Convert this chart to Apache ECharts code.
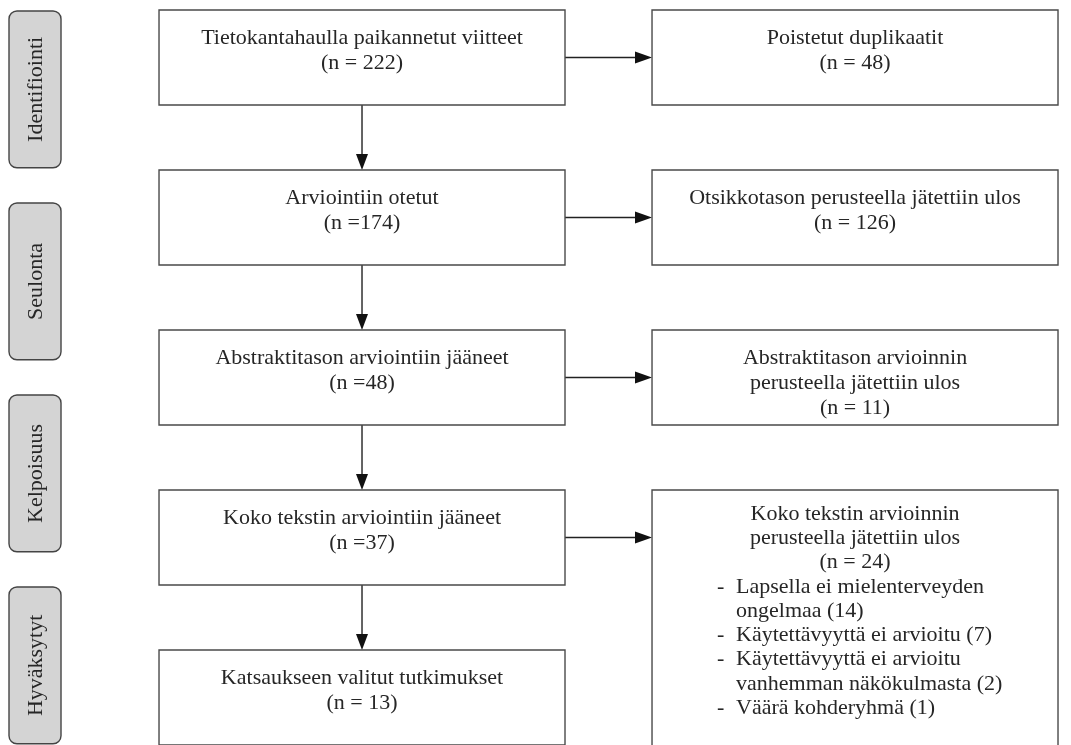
<!DOCTYPE html>
<html>
<head>
<meta charset="utf-8">
<script src="https://cdn.jsdelivr.net/npm/echarts@6/dist/echarts.min.js"></script>
<style>
  html, body { margin: 0; padding: 0; background: #fff; }
  #chart { width: 1071px; height: 745px; }
</style>
</head>
<body>
<div id="chart"></div>
<script>
// stages on the left side
const stages = ['Identifiointi', 'Seulonta', 'Kelpoisuus', 'Hyväksytyt'];
// main flow (left column)
const mainLabels = [
    'Tietokantahaulla paikannetut viitteet',
    'Arviointiin otetut',
    'Abstraktitason arviointiin jääneet',
    'Koko tekstin arviointiin jääneet',
    'Katsaukseen valitut tutkimukset'
];
const mainN = [222, 174, 48, 37, 13];
const mainEqSpace = [true, false, false, false, true]; // printed as "(n =174)" etc.
// excluded (right column)
const excludedLabels = [
    'Poistetut duplikaatit',
    'Otsikkotason perusteella jätettiin ulos',
    'Abstraktitason arvioinnin\nperusteella jätettiin ulos',
    'Koko tekstin arvioinnin\nperusteella jätettiin ulos'
];
const excludedN = [48, 126, 11, 24];
// reasons for full text exclusion
const reasonLabels = [
    'Lapsella ei mielenterveyden\nongelmaa',
    'Käytettävyyttä ei arvioitu',
    'Käytettävyyttä ei arvioitu\nvanhemman näkökulmasta',
    'Väärä kohderyhmä'
];
const reasonN = [14, 7, 2, 1];

// layout in axis units (x: columns, y: rows)
const COL_W = 0.8235, ROW_H = 0.59375, TALL_H = 1.69;
const STAGE_X = -0.6633, STAGE_W = 0.1055, STAGE_TOP = -0.2906, STAGE_H = 0.98, STAGE_STEP = 1.2;
const FONT = '"Liberation Serif", "DejaVu Serif", serif';
const FS = 22;
const TEXT_COL = '#262626';
const LINE_H = 25;

function nText(n, spaced) {
    return '(n ' + (spaced ? '= ' : '=') + n + ')';
}

const chart = echarts.init(document.getElementById('chart'));

function boxRect(api, col, row, h) {
    const c = api.coord([col, row]);
    const s = api.size([COL_W, ROW_H]);
    const hh = api.size([0, h])[1];
    return {x: c[0] - s[0] / 2, y: c[1] - s[1] / 2, width: s[0], height: hh};
}

const option = {
    animation: false,
    grid: {left: 0, right: 0, top: 0, bottom: 0},
    xAxis: {type: 'value', min: -0.7343, max: 1.4381, show: false},
    yAxis: {type: 'value', min: -0.359375, max: 4.296875, inverse: true, show: false},
    series: [
        {
            // stage labels
            type: 'custom',
            data: stages.map((s, i) => [STAGE_X, STAGE_TOP + STAGE_STEP * i]),
            renderItem: function (params, api) {
                const p = api.coord([api.value(0), api.value(1)]);
                const s = api.size([STAGE_W, STAGE_H]);
                return {
                    type: 'group',
                    children: [{
                        type: 'rect',
                        shape: {x: p[0] - s[0] / 2, y: p[1], width: s[0], height: s[1], r: 8},
                        style: {fill: '#d4d4d4', stroke: '#444', lineWidth: 1.4}
                    }, {
                        type: 'text',
                        x: p[0] + 1, y: p[1] + s[1] / 2,
                        rotation: Math.PI / 2,
                        style: {
                            text: stages[params.dataIndex], x: 0, y: 0,
                            align: 'center', verticalAlign: 'middle',
                            fontFamily: FONT, fontSize: FS, fill: TEXT_COL
                        }
                    }]
                };
            }
        },
        {
            // arrows between boxes
            type: 'custom',
            data: excludedLabels.map((l, i) => [0, i]),
            renderItem: function (params, api) {
                const i = params.dataIndex;
                const r0 = boxRect(api, 0, i, ROW_H);
                const r1 = boxRect(api, 0, i + 1, ROW_H);
                const rr = boxRect(api, 1, i, ROW_H);
                const cx = r0.x + r0.width / 2;
                const cy = r0.y + r0.height / 2;
                const ah = 16, aw = 6;
                const ls = {stroke: '#222', lineWidth: 1.4};
                return {
                    type: 'group',
                    children: [
                        {type: 'line', shape: {x1: cx, y1: r0.y + r0.height, x2: cx, y2: r1.y - ah + 1}, style: ls},
                        {type: 'polygon', shape: {points: [[cx - aw, r1.y - ah], [cx + aw, r1.y - ah], [cx, r1.y]]}, style: {fill: '#111'}},
                        {type: 'line', shape: {x1: r0.x + r0.width, y1: cy, x2: rr.x - ah + 1, y2: cy}, style: ls},
                        {type: 'polygon', shape: {points: [[rr.x - ah - 1, cy - aw], [rr.x - ah - 1, cy + aw], [rr.x, cy]]}, style: {fill: '#111'}}
                    ]
                };
            }
        },
        {
            // main flow boxes
            type: 'custom',
            data: mainLabels.map((l, i) => [0, i]),
            renderItem: function (params, api) {
                const i = params.dataIndex;
                const r = boxRect(api, api.value(0), api.value(1), ROW_H);
                return {
                    type: 'group',
                    children: [{
                        type: 'rect', shape: r,
                        style: {fill: '#fff', stroke: '#4a4a4a', lineWidth: 1.4}
                    }, {
                        type: 'text',
                        style: {
                            text: mainLabels[i] + '\n' + nText(mainN[i], mainEqSpace[i]),
                            x: r.x + r.width / 2, y: r.y + 16,
                            align: 'center', verticalAlign: 'top', lineHeight: LINE_H,
                            fontFamily: FONT, fontSize: FS, fill: TEXT_COL
                        }
                    }]
                };
            }
        },
        {
            // excluded boxes
            type: 'custom',
            data: excludedLabels.map((l, i) => [1, i]),
            renderItem: function (params, api) {
                const i = params.dataIndex;
                const last = i === excludedLabels.length - 1;
                const r = boxRect(api, api.value(0), api.value(1), last ? TALL_H : ROW_H);
                const lh = last ? 24.25 : LINE_H;
                const top = last ? r.y + 12 : r.y + 16;
                const children = [{
                    type: 'rect', shape: r,
                    style: {fill: '#fff', stroke: '#4a4a4a', lineWidth: 1.4}
                }, {
                    type: 'text',
                    style: {
                        text: excludedLabels[i] + '\n' + nText(excludedN[i], true),
                        x: r.x + r.width / 2, y: top,
                        align: 'center', verticalAlign: 'top', lineHeight: lh,
                        fontFamily: FONT, fontSize: FS, fill: TEXT_COL
                    }
                }];
                if (last) {
                    let y = top + 3 * lh;
                    reasonLabels.forEach((lab, k) => {
                        const txt = lab + ' (' + reasonN[k] + ')';
                        children.push({
                            type: 'text',
                            style: {text: '-', x: r.x + 65, y: y, verticalAlign: 'top', lineHeight: lh,
                                fontFamily: FONT, fontSize: FS, fill: TEXT_COL}
                        }, {
                            type: 'text',
                            style: {text: txt, x: r.x + 84, y: y, verticalAlign: 'top', lineHeight: lh,
                                fontFamily: FONT, fontSize: FS, fill: TEXT_COL}
                        });
                        y += lh * txt.split('\n').length;
                    });
                }
                return {type: 'group', children: children};
            }
        }
    ]
};

chart.setOption(option);
window.addEventListener('resize', () => chart.resize());
</script>
</body>
</html>
